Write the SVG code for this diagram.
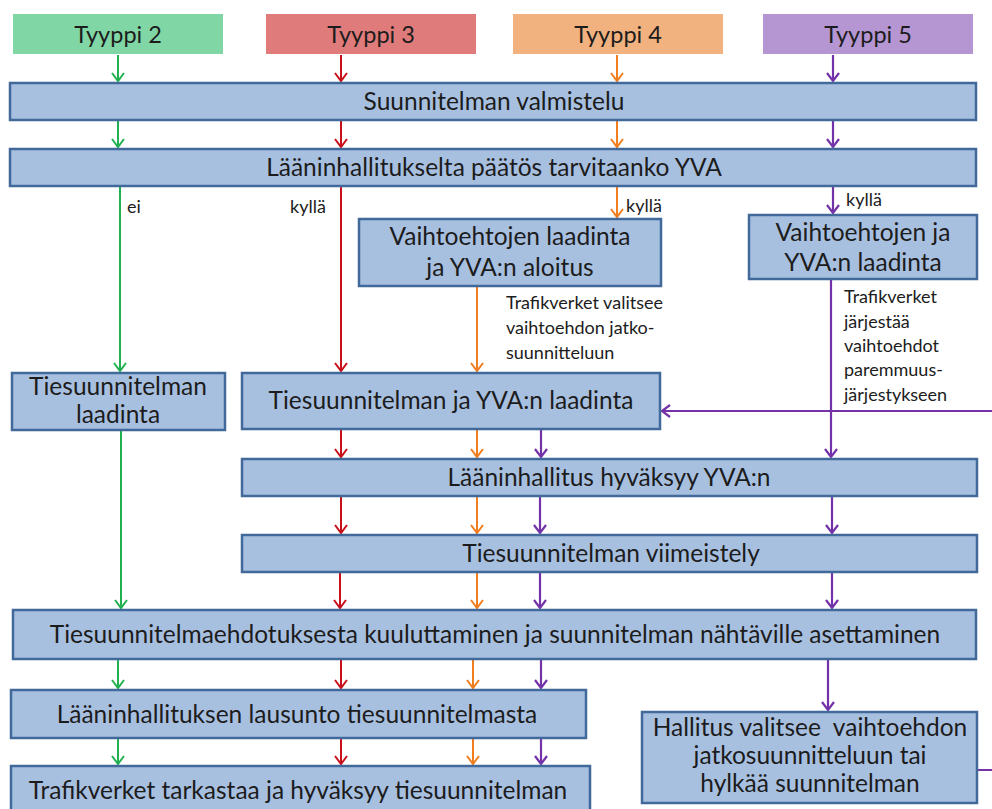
<svg xmlns="http://www.w3.org/2000/svg" width="992" height="809" viewBox="0 0 992 809">
<defs>
<style>
.box{fill:#a8c0e0;stroke:#41699a;stroke-width:2.5}
.t{font-family:Lato,"Liberation Sans",sans-serif;font-size:24.5px;fill:#1c1c1c;text-anchor:middle}
.h{font-family:Lato,"Liberation Sans",sans-serif;font-size:23.5px;fill:#1c1c1c;text-anchor:middle}
.s{font-family:Lato,"Liberation Sans",sans-serif;font-size:18px;fill:#1c1c1c}
.g{stroke:#22b150;stroke-width:2;fill:none}
.r{stroke:#c8101a;stroke-width:2;fill:none}
.o{stroke:#f07d1e;stroke-width:2;fill:none}
.p{stroke:#7432a8;stroke-width:2.2;fill:none}
</style>
<marker id="ag" markerUnits="userSpaceOnUse" markerWidth="20" markerHeight="20" refX="0" refY="0" orient="auto" overflow="visible"><path d="M-8,-6 L0,0 L-8,6" fill="none" stroke="#22b150" stroke-width="2"/></marker>
<marker id="ar" markerUnits="userSpaceOnUse" markerWidth="20" markerHeight="20" refX="0" refY="0" orient="auto" overflow="visible"><path d="M-8,-6 L0,0 L-8,6" fill="none" stroke="#c8101a" stroke-width="2"/></marker>
<marker id="ao" markerUnits="userSpaceOnUse" markerWidth="20" markerHeight="20" refX="0" refY="0" orient="auto" overflow="visible"><path d="M-8,-6 L0,0 L-8,6" fill="none" stroke="#f07d1e" stroke-width="2"/></marker>
<marker id="ap" markerUnits="userSpaceOnUse" markerWidth="20" markerHeight="20" refX="0" refY="0" orient="auto" overflow="visible"><path d="M-8,-6 L0,0 L-8,6" fill="none" stroke="#7432a8" stroke-width="2.2"/></marker>
</defs>
<rect width="992" height="809" fill="#ffffff"/>

<g id="connectors">
<path class="g" d="M118,55 V81" marker-end="url(#ag)"/>
<path class="r" d="M341,55 V81" marker-end="url(#ar)"/>
<path class="o" d="M617,55 V81" marker-end="url(#ao)"/>
<path class="p" d="M833,55 V81" marker-end="url(#ap)"/>
<path class="g" d="M118,121 V147" marker-end="url(#ag)"/>
<path class="r" d="M341,121 V147" marker-end="url(#ar)"/>
<path class="o" d="M617,121 V147" marker-end="url(#ao)"/>
<path class="p" d="M833,121 V147" marker-end="url(#ap)"/>
<path class="g" d="M120,187 V371" marker-end="url(#ag)"/>
<path class="r" d="M341,187 V371" marker-end="url(#ar)"/>
<path class="o" d="M617,187 V217" marker-end="url(#ao)"/>
<path class="p" d="M833,187 V213" marker-end="url(#ap)"/>
<path class="o" d="M477,287 V371" marker-end="url(#ao)"/>
<path class="p" d="M831,280 V457" marker-end="url(#ap)"/>
<path class="p" d="M978,770 H996 V411 H662" marker-end="url(#ap)"/>
<path class="g" d="M121,431 V608" marker-end="url(#ag)"/>
<path class="r" d="M341,430 V457" marker-end="url(#ar)"/>
<path class="o" d="M477,430 V457" marker-end="url(#ao)"/>
<path class="p" d="M541,430 V457" marker-end="url(#ap)"/>
<path class="r" d="M341,497 V533" marker-end="url(#ar)"/>
<path class="o" d="M477,497 V533" marker-end="url(#ao)"/>
<path class="p" d="M540,497 V533" marker-end="url(#ap)"/>
<path class="p" d="M832,497 V533" marker-end="url(#ap)"/>
<path class="r" d="M340,573 V608" marker-end="url(#ar)"/>
<path class="o" d="M477,573 V608" marker-end="url(#ao)"/>
<path class="p" d="M540,573 V608" marker-end="url(#ap)"/>
<path class="p" d="M832,573 V608" marker-end="url(#ap)"/>
<path class="g" d="M118,660 V688" marker-end="url(#ag)"/>
<path class="r" d="M341,660 V688" marker-end="url(#ar)"/>
<path class="o" d="M473,660 V688" marker-end="url(#ao)"/>
<path class="p" d="M541,660 V688" marker-end="url(#ap)"/>
<path class="p" d="M828,660 V710" marker-end="url(#ap)"/>
<path class="g" d="M118,739 V764" marker-end="url(#ag)"/>
<path class="r" d="M341,739 V764" marker-end="url(#ar)"/>
<path class="o" d="M473,739 V764" marker-end="url(#ao)"/>
<path class="p" d="M541,739 V764" marker-end="url(#ap)"/>
</g>

<g id="labels">
<text class="s" x="127" y="213">ei</text>
<text class="s" x="290" y="213">kyllä</text>
<text class="s" x="626" y="212">kyllä</text>
<text class="s" x="846" y="206">kyllä</text>
<text class="s" x="506" y="309">Trafikverket valitsee</text>
<text class="s" x="506" y="334">vaihtoehdon jatko-</text>
<text class="s" x="506" y="359">suunnitteluun</text>
<text class="s" x="844" y="303">Trafikverket</text>
<text class="s" x="844" y="328">järjestää</text>
<text class="s" x="844" y="352">vaihtoehdot</text>
<text class="s" x="844" y="376">paremmuus-</text>
<text class="s" x="844" y="401">järjestykseen</text>
</g>

<g id="tyyppi2"><rect x="13" y="14" width="210" height="40" fill="#80d6a4"/><text class="h" x="118" y="43">Tyyppi 2</text></g>
<g id="tyyppi3"><rect x="266" y="14" width="210" height="40" fill="#e07b7b"/><text class="h" x="371" y="43">Tyyppi 3</text></g>
<g id="tyyppi4"><rect x="513" y="14" width="210" height="40" fill="#f2b27f"/><text class="h" x="618" y="43">Tyyppi 4</text></g>
<g id="tyyppi5"><rect x="763" y="14" width="210" height="40" fill="#b596d3"/><text class="h" x="868" y="43">Tyyppi 5</text></g>

<g id="valmistelu"><rect class="box" x="10" y="83" width="966" height="37"/><text class="t" x="494" y="110">Suunnitelman valmistelu</text></g>
<g id="paatos"><rect class="box" x="10" y="149" width="966" height="37"/><text class="t" x="494" y="176">Lääninhallitukselta päätös tarvitaanko YVA</text></g>
<g id="vaihtoehdot4"><rect class="box" x="359" y="219" width="302" height="67"/><text class="t" x="510" y="245">Vaihtoehtojen laadinta</text><text class="t" x="510" y="276">ja YVA:n aloitus</text></g>
<g id="vaihtoehdot5"><rect class="box" x="749" y="215" width="228" height="64"/><text class="t" x="863" y="241">Vaihtoehtojen ja</text><text class="t" x="863" y="271">YVA:n laadinta</text></g>
<g id="tiesuunnitelma2"><rect class="box" x="12" y="373" width="213" height="57"/><text class="t" x="118" y="395">Tiesuunnitelman</text><text class="t" x="118" y="423">laadinta</text></g>
<g id="tiesuunnitelmaYVA"><rect class="box" x="242" y="373" width="418" height="56"/><text class="t" x="451" y="409">Tiesuunnitelman ja YVA:n laadinta</text></g>
<g id="hyvaksyy"><rect class="box" x="242" y="459" width="735" height="37"/><text class="t" x="609" y="486">Lääninhallitus hyväksyy YVA:n</text></g>
<g id="viimeistely"><rect class="box" x="242" y="535" width="735" height="37"/><text class="t" x="611" y="562">Tiesuunnitelman viimeistely</text></g>
<g id="kuuluttaminen"><rect class="box" x="13" y="610" width="963" height="49"/><text class="t" x="495" y="643">Tiesuunnitelmaehdotuksesta kuuluttaminen ja suunnitelman nähtäville asettaminen</text></g>
<g id="lausunto"><rect class="box" x="11" y="690" width="575" height="48"/><text class="t" x="297" y="723">Lääninhallituksen lausunto tiesuunnitelmasta</text></g>
<g id="tarkastaa"><rect class="box" x="11" y="766" width="579" height="50"/><text class="t" x="298" y="799">Trafikverket tarkastaa ja hyväksyy tiesuunnitelman</text></g>
<g id="hallitus"><rect class="box" x="642" y="712" width="335" height="91"/><text class="t" x="810" y="736" xml:space="preserve">Hallitus valitsee  vaihtoehdon</text><text class="t" x="810" y="764">jatkosuunnitteluun tai</text><text class="t" x="810" y="792">hylkää suunnitelman</text></g>
</svg>
